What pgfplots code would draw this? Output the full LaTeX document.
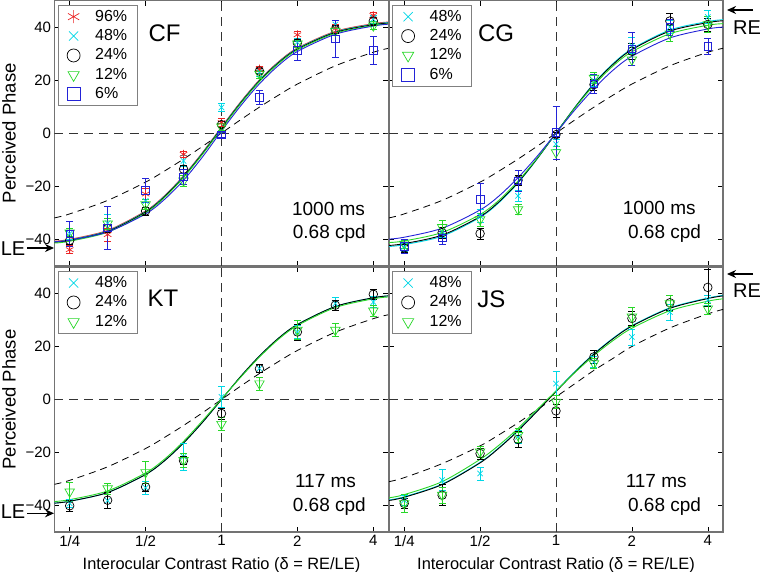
\documentclass[border=0pt]{standalone}
\usepackage{fontspec}
\setmainfont{Liberation Sans}
\usepackage{pgfplots}
\usepackage{pgfplotstable}
\pgfplotsset{compat=1.18}
\usetikzlibrary{arrows.meta}

\definecolor{cr}{RGB}{235,35,35}
\definecolor{cc}{RGB}{0,215,230}
\definecolor{cg}{RGB}{40,215,40}
\definecolor{cb}{RGB}{35,35,215}

% measured points (x = log2 of contrast ratio), value and error
\pgfplotstableread{
x    r     re   c     ce   k     ke   g     ge   b     be
-2   -44.0 1.5  -38.0 2.0  -40.5 1.5  -37.6 1.5  -38.0 4.7
-1.5 -38.3 2.5  -34.0 3.5  -36.0 1.5  -34.2 2.0  -35.7 8.0
-1   -23.0 2.0  -25.6 2.5  -29.4 1.5  -26.9 2.0  -21.6 4.4
-0.5 -8.0  1.2  -10.5 2.0  -13.6 1.5  -18.0 2.0  -16.5 3.0
0    4.0   1.5  9.7   1.5  3.2   1.2  2.4   1.2  -0.6  1.0
0.5  24.2  1.0  23.0  1.5  23.4  1.0  22.3  1.5  13.5  2.7
1    37.1  1.5  34.3  1.5  34.0  1.5  33.7  1.5  31.2  3.6
1.5  39.4  1.5  41.0  1.5  39.0  1.5  38.5  1.5  35.6  7.0
2    44.4  1.2  43.0  1.5  42.3  1.5  40.5  1.5  31.2  5.3
}\cfpts
\pgfplotstableread{
x     r     c     k     g     b     d
-2.2  -40.8 -41.0 -41.2 -41.5 -41.0 -32.0
-2    -40.1 -40.3 -40.5 -40.8 -40.4 -30.5
-1.5  -36.7 -36.9 -37.1 -37.4 -37.3 -25.4
-1    -29.4 -29.6 -29.8 -30.1 -30.5 -18.5
-0.75 -23.6 -23.8 -24.0 -24.3 -25.0 -14.3
-0.5  -16.1 -16.3 -16.5 -16.8 -17.8 -9.8
-0.25 -7.3  -7.5  -7.7  -8.0  -9.0  -5.0
0     2.3   2.1   1.9   1.6   0.8   0
0.25  11.7  11.5  11.3  11.0  10.2  5.0
0.5   20.1  19.9  19.7  19.4  18.6  9.8
0.75  26.9  26.7  26.5  26.2  25.5  14.3
1     32.1  31.9  31.7  31.4  30.8  18.5
1.5   38.4  38.2  38.0  37.7  37.3  25.4
2     41.3  41.1  40.9  40.6  40.4  30.5
2.2   41.9  41.7  41.5  41.2  41.1  32.0
}\cffit

\pgfplotstableread{
x    c     ce   k     ke   g     ge   b     be
-2   -43.0 1.5  -43.3 1.5  -41.8 1.5  -42.7 2.5
-1.5 -37.0 2.5  -37.6 2.0  -35.5 2.5  -39.5 2.5
-1   -31.3 2.5  -37.9 2.0  -32.6 2.5  -25.0 6.2
-0.5 -23.7 2.0  -17.8 2.0  -28.8 2.0  -18.0 4.0
0    -4.2  2.0  -0.6  1.0  -7.3  2.5  0.3   10.0
0.5  19.8  2.0  18.3  2.0  20.8  2.0  18.6  3.5
1    33.0  3.0  30.9  3.0  27.7  2.0  31.8  6.3
1.5  40.0  2.5  42.3  3.0  37.5  3.0  40.0  3.0
2    43.8  2.5  41.0  2.5  41.0  3.0  32.7  3.0
}\cgpts
\pgfplotstableread{
x     c     k     g     b     d
-2.2  -42.8 -42.4 -41.3 -40.0 -32.0
-2    -42.1 -41.7 -40.7 -39.3 -30.5
-1.5  -38.9 -38.5 -37.5 -35.9 -25.4
-1    -31.8 -31.5 -30.7 -29.0 -18.5
-0.75 -26.2 -25.9 -25.3 -23.7 -14.3
-0.5  -18.8 -18.6 -18.1 -16.8 -9.8
-0.25 -9.8  -9.7  -9.5  -8.8  -5.0
0     0     0     0     0     0
0.25  9.8   9.7   9.5   8.8   5.0
0.5   18.8  18.6  18.1  16.8  9.8
0.75  26.2  25.9  25.3  23.7  14.3
1     31.8  31.5  30.7  29.0  18.5
1.5   38.9  38.5  37.5  35.9  25.4
2     42.1  41.7  40.7  39.3  30.5
2.2   42.8  42.4  41.3  40.0  32.0
}\cgfit

\pgfplotstableread{
x    c     ce   k     ke   g     ge
-2   -39.2 1.5  -40.1 2.0  -34.8 3.5
-1.5 -38.2 3.0  -38.0 3.0  -33.6 2.0
-1   -33.3 2.5  -33.0 1.5  -27.5 4.0
-0.5 -21.6 5.0  -23.1 1.5  -22.9 2.5
0    1.0   4.0  -5.3  2.0  -9.3  2.5
0.5  11.7  1.5  11.6  1.5  6.0   2.5
1    25.5  2.5  25.5  3.0  26.2  3.5
1.5  36.2  2.5  35.6  2.0  26.2  2.5
2    36.8  2.0  39.7  2.0  33.5  2.0
}\ktpts
\pgfplotstableread{
x     c     k     g     d
-2.2  -39.1 -39.1 -38.5 -32.0
-2    -38.4 -38.4 -37.8 -30.5
-1.5  -35.1 -35.1 -34.5 -25.4
-1    -28.3 -28.3 -27.7 -18.5
-0.75 -23.1 -23.1 -22.5 -14.3
-0.5  -16.4 -16.4 -15.8 -9.8
-0.25 -8.6  -8.6  -8.0  -5.0
0     0     0     0.2   0
0.25  8.6   8.6   8.3   5.0
0.5   16.4  16.4  16.0  9.8
0.75  23.1  23.1  22.7  14.3
1     28.3  28.3  27.9  18.5
1.5   35.1  35.1  34.7  25.4
2     38.4  38.4  38.0  30.5
2.2   39.1  39.1  38.7  32.0
}\ktfit

\pgfplotstableread{
x    c     ce   k     ke   g     ge
-2   -38.0 2.0  -39.2 2.0  -39.2 3.5
-1.5 -30.4 4.0  -36.1 4.0  -36.0 3.0
-1   -27.9 2.5  -20.4 2.0  -19.7 2.0
-0.5 -14.1 2.5  -15.1 3.0  -13.5 2.5
0    6.0   4.5  -4.3  2.5  -0.9  2.5
0.5  14.2  2.0  16.1  2.5  13.6  2.0
1    23.6  3.0  30.6  2.5  31.2  3.5
1.5  33.0  3.0  36.5  3.0  36.2  3.0
2    37.5  2.0  42.3  7.0  34.3  2.0
}\jspts
\pgfplotstableread{
x     c     k     g     d
-2.2  -37.9 -38.1 -37.1 -31.0
-2    -36.7 -36.9 -35.9 -29.5
-1.5  -31.9 -32.1 -31.0 -24.2
-1    -23.7 -23.9 -22.6 -17.5
-0.75 -18.1 -18.3 -17.2 -13.3
-0.5  -11.6 -11.8 -10.9 -8.8
-0.25 -4.3  -4.5  -3.8  -3.9
0     3.2   3.0   3.2   1.0
0.25  10.6  10.4  10.2  6.0
0.5   17.3  17.1  16.6  11.0
0.75  23.1  22.9  22.2  15.5
1     27.9  27.7  26.9  20.0
1.5   34.6  34.4  33.5  27.0
2     38.3  38.1  37.1  32.3
2.2   39.3  39.1  38.0  34.0
}\jsfit

\pgfplotsset{
  panel/.style={
    scale only axis, width=334pt, height=265pt,
    xmin=-2.2, xmax=2.2, ymin=-50, ymax=50,
    xtick={-2,-1,0,1,2}, xticklabels={1/4,1/2,1,2,4},
    ytick={-40,-20,0,20,40}, yticklabels={−40,−20,0,20,40},
    tick label style={font=\fontsize{15}{15}\selectfont},
    major tick length=5pt,
    tick style={black, line width=0.6pt},
    axis line style={black!55, line width=1.2pt},
    legend cell align=left,
    legend style={at={(0.009,0.985)}, anchor=north west,
      draw=black!50, line width=1.2pt, fill=white,
      font=\fontsize{16}{16}\selectfont,
      row sep=2.4pt, column sep=14pt, inner xsep=9pt, inner ysep=3pt,
      nodes={inner sep=1pt, text height=12pt, text depth=3pt}},
    legend image post style={mark size=6.5pt},
    xlabel style={at={(axis description cs:0.5,-0.14)}, anchor=base,
      font=\fontsize{16.4}{16.4}\selectfont},
    ylabel style={at={(axis description cs:-0.136,0.5)}, anchor=center,
      font=\fontsize{18.5}{18.5}\selectfont},
  },
  fit/.style={no marks, line width=0.9pt, smooth, forget plot},
  dfit/.style={no marks, black, line width=0.8pt, dash pattern=on 7pt off 5pt, smooth, forget plot},
  ebars/.style={error bars/.cd, y dir=both, y explicit,
    error bar style={line width=0.6pt},
    error mark options={rotate=90, mark size=3.5pt, line width=0.6pt}},
  sR/.style={only marks, cr, mark=asterisk, mark size=4.3pt, mark options={line width=0.7pt}, ebars},
  sC/.style={only marks, cc, mark=x, mark size=3.8pt, mark options={line width=0.7pt}, ebars},
  sK/.style={only marks, black, mark=o, mark size=4.3pt, mark options={line width=0.7pt}, ebars},
  sG/.style={only marks, cg, mark=triangle, mark size=5.5pt, mark options={rotate=180, line width=0.7pt}, ebars},
  sB/.style={only marks, cb, mark=square, mark size=3.8pt, mark options={line width=0.7pt}, ebars},
}
\tikzset{
  zline/.style={black!80, line width=0.9pt, dash pattern=on 9pt off 6pt},
  big/.style={font=\fontsize{24}{24}\selectfont},
  cond/.style={font=\fontsize{19}{19}\selectfont},
  eye/.style={font=\fontsize{20}{20}\selectfont},
  arr/.style={-{Stealth[length=9pt,width=8pt]}, line width=1.4pt},
}

\begin{document}
\begin{tikzpicture}
\useasboundingbox (0,0) rectangle (761pt,-572pt);

% ---- CF ----
\begin{axis}[panel, at={(54.5pt,-0.6pt)}, anchor=north west,
    xticklabels=\empty, ylabel={Perceived Phase}]
  \draw[zline] (axis cs:-2.2,0) -- (axis cs:2.2,0);
  \draw[zline] (axis cs:0,-50) -- (axis cs:0,50);
  \addplot[dfit] table[x=x, y=d] {\cffit};
  \addplot[fit, cr] table[x=x, y=r] {\cffit};
  \addplot[fit, cc] table[x=x, y=c] {\cffit};
  \addplot[fit, black] table[x=x, y=k] {\cffit};
  \addplot[fit, cg] table[x=x, y=g] {\cffit};
  \addplot[fit, cb] table[x=x, y=b] {\cffit};
  \addplot[sR] table[x=x, y=r, y error=re] {\cfpts};
  \addplot[sC] table[x=x, y=c, y error=ce] {\cfpts};
  \addplot[sK] table[x=x, y=k, y error=ke] {\cfpts};
  \addplot[sG] table[x=x, y=g, y error=ge] {\cfpts};
  \addplot[sB] table[x=x, y=b, y error=be] {\cfpts};
  \legend{96\%, 48\%, 24\%, 12\%, 6\%}
  \node[big] at (axis cs:-0.75,37.5) {CF};
  \node[cond] at (axis cs:1.41,-28.5) {1000 ms};
  \node[cond] at (axis cs:1.42,-38) {0.68 cpd};
\end{axis}

% ---- CG ----
\begin{axis}[panel, at={(389pt,-0.6pt)}, anchor=north west,
    xticklabels=\empty, yticklabels=\empty]
  \draw[zline] (axis cs:-2.2,0) -- (axis cs:2.2,0);
  \draw[zline] (axis cs:0,-50) -- (axis cs:0,50);
  \addplot[dfit] table[x=x, y=d] {\cgfit};
  \addplot[fit, cc] table[x=x, y=c] {\cgfit};
  \addplot[fit, black] table[x=x, y=k] {\cgfit};
  \addplot[fit, cg] table[x=x, y=g] {\cgfit};
  \addplot[fit, cb] table[x=x, y=b] {\cgfit};
  \addplot[sC] table[x=x, y=c, y error=ce] {\cgpts};
  \addplot[sK] table[x=x, y=k, y error=ke] {\cgpts};
  \addplot[sG] table[x=x, y=g, y error=ge] {\cgpts};
  \addplot[sB] table[x=x, y=b, y error=be] {\cgpts};
  \legend{48\%, 24\%, 12\%, 6\%}
  \node[big] at (axis cs:-0.79,37.5) {CG};
  \node[cond] at (axis cs:1.36,-28.3) {1000 ms};
  \node[cond] at (axis cs:1.43,-38) {0.68 cpd};
\end{axis}

% ---- KT ----
\begin{axis}[panel, at={(54.5pt,-267pt)}, anchor=north west,
    ylabel={Perceived Phase},
    xlabel={Interocular Contrast Ratio (δ = RE/LE)}]
  \draw[zline] (axis cs:-2.2,0) -- (axis cs:2.2,0);
  \draw[zline] (axis cs:0,-50) -- (axis cs:0,50);
  \addplot[dfit] table[x=x, y=d] {\ktfit};
  \addplot[fit, cc] table[x=x, y=c] {\ktfit};
  \addplot[fit, black] table[x=x, y=k] {\ktfit};
  \addplot[fit, cg] table[x=x, y=g] {\ktfit};
  \addplot[sC] table[x=x, y=c, y error=ce] {\ktpts};
  \addplot[sK] table[x=x, y=k, y error=ke] {\ktpts};
  \addplot[sG] table[x=x, y=g, y error=ge] {\ktpts};
  \legend{48\%, 24\%, 12\%}
  \node[big] at (axis cs:-0.77,38.1) {KT};
  \node[cond] at (axis cs:1.37,-30.8) {117 ms};
  \node[cond] at (axis cs:1.42,-40.3) {0.68 cpd};
\end{axis}

% ---- JS ----
\begin{axis}[panel, at={(389pt,-267pt)}, anchor=north west,
    yticklabels=\empty,
    xlabel={Interocular Contrast Ratio (δ = RE/LE)}]
  \draw[zline] (axis cs:-2.2,0) -- (axis cs:2.2,0);
  \draw[zline] (axis cs:0,-50) -- (axis cs:0,50);
  \addplot[dfit] table[x=x, y=d] {\jsfit};
  \addplot[fit, cc] table[x=x, y=c] {\jsfit};
  \addplot[fit, black] table[x=x, y=k] {\jsfit};
  \addplot[fit, cg] table[x=x, y=g] {\jsfit};
  \addplot[sC] table[x=x, y=c, y error=ce] {\jspts};
  \addplot[sK] table[x=x, y=k, y error=ke] {\jspts};
  \addplot[sG] table[x=x, y=g, y error=ge] {\jspts};
  \legend{48\%, 24\%, 12\%}
  \node[big] at (axis cs:-0.85,37.8) {JS};
  \node[cond] at (axis cs:1.32,-30.8) {117 ms};
  \node[cond] at (axis cs:1.43,-40.3) {0.68 cpd};
\end{axis}

% eye markers
\node[eye] at (13pt,-249pt) {LE};
\draw[arr] (27pt,-248pt) -- (54pt,-248pt);
\node[eye] at (13pt,-511.7pt) {LE};
\draw[arr] (27pt,-513.3pt) -- (54pt,-513.3pt);
\draw[arr] (753pt,-10pt) -- (727pt,-10pt);
\node[eye] at (747pt,-27.5pt) {RE};
\draw[arr] (753pt,-274pt) -- (727pt,-274pt);
\node[eye] at (747pt,-291pt) {RE};
\end{tikzpicture}
\end{document}
